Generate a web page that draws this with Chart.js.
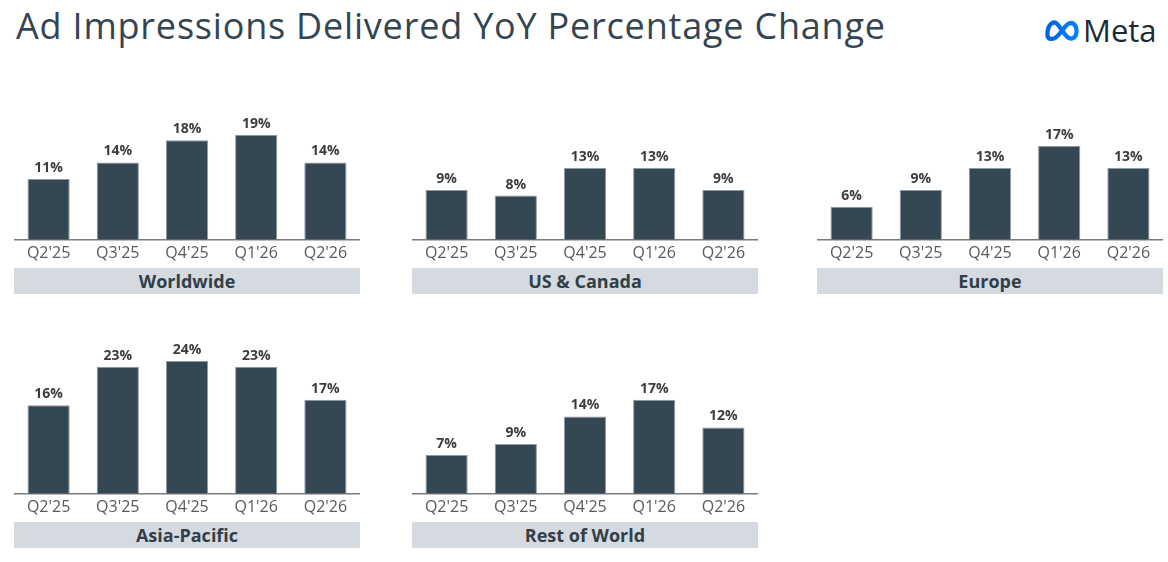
<!DOCTYPE html>
<html>
<head>
<meta charset="utf-8">
<script src="https://cdn.jsdelivr.net/npm/chart.js@4.4.1/dist/chart.umd.min.js"></script>
<style>
  body { margin: 0; width: 1168px; height: 562px; background: #fff; position: relative; overflow: hidden; font-family: "Open Sans", sans-serif; }
  h1 { position: absolute; left: 16px; top: 1px; margin: 0; font-weight: 400; font-size: 36px; color: #344552; letter-spacing: 0.8px; white-space: nowrap; }
  .logo { position: absolute; left: 1043px; top: 9px; display: flex; align-items: center; }
  .logo span { font-size: 31px; color: #1c2b33; margin-left: 2px; font-weight: 500; }
  .panel { position: absolute; width: 346px; }
  .band { position: absolute; width: 346px; height: 26px; background: #d4dae0; color: #333f48; font-weight: 700; font-size: 18px; text-align: center; line-height: 26px; }
</style>
</head>
<body>
<h1>Ad Impressions Delivered YoY Percentage Change</h1>
<div class="logo">
  <svg width="38" height="26" viewBox="0 0 34 22">
    <defs>
      <linearGradient id="mg" x1="0" y1="0" x2="1" y2="0">
        <stop offset="0" stop-color="#0064e0"/>
        <stop offset="1" stop-color="#0082fb"/>
      </linearGradient>
    </defs>
    <path d="M4 15 C4 6 9 3 12 5 C15 7 19 16 23 18 C27 20 30 17 30 12 C30 6 26 3 22 6 C18 9 15 16 11 18 C7 20 4 19 4 15 Z" fill="none" stroke="url(#mg)" stroke-width="3.8" stroke-linejoin="round"/>
  </svg>
  <span>Meta</span>
</div>

<div class="panel" style="left:14px; top:85px;"><canvas id="c1" width="346" height="182"></canvas></div>
<div class="panel" style="left:412px; top:85px;"><canvas id="c2" width="346" height="182"></canvas></div>
<div class="panel" style="left:817px; top:85px;"><canvas id="c3" width="346" height="182"></canvas></div>
<div class="panel" style="left:14px; top:339px;"><canvas id="c4" width="346" height="182"></canvas></div>
<div class="panel" style="left:412px; top:339px;"><canvas id="c5" width="346" height="182"></canvas></div>

<div class="band" style="left:14px; top:268px;">Worldwide</div>
<div class="band" style="left:412px; top:268px;">US &amp; Canada</div>
<div class="band" style="left:817px; top:268px;">Europe</div>
<div class="band" style="left:14px; top:522px;">Asia-Pacific</div>
<div class="band" style="left:412px; top:522px;">Rest of World</div>

<script>
// quarters shown under every panel
const quarters = ["Q2'25", "Q3'25", "Q4'25", "Q1'26", "Q2'26"];

// YoY % change per region
const worldwide = [11, 14, 18, 19, 14];
const usCanada = [9, 8, 13, 13, 9];
const europe = [6, 9, 13, 17, 13];
const asiaPacific = [16, 23, 24, 23, 17];
const restOfWorld = [7, 9, 14, 17, 12];

// draws "xx%" above each bar
const valueLabels = {
  id: "valueLabels",
  afterDatasetsDraw(chart) {
    const ctx = chart.ctx;
    ctx.save();
    ctx.font = "700 14px 'Open Sans', sans-serif";
    ctx.fillStyle = "#3a3d40";
    ctx.textAlign = "center";
    ctx.textBaseline = "bottom";
    chart.getDatasetMeta(0).data.forEach((bar, i) => {
      ctx.fillText(chart.data.datasets[0].data[i] + "%", bar.x, bar.y - 4);
    });
    ctx.restore();
  },
};

function makeChart(id, values) {
  const ctx = document.getElementById(id).getContext("2d");
  return new Chart(ctx, {
    type: "bar",
    data: {
      labels: quarters,
      datasets: [
        {
          data: values,
          backgroundColor: "#344753",
          borderColor: "#8d99a2",
          borderWidth: 1,
          barPercentage: 0.61,
          categoryPercentage: 1,
        },
      ],
    },
    options: {
      responsive: false,
      animation: false,
      devicePixelRatio: 1,
      layout: { padding: 0 },
      plugins: { legend: { display: false }, tooltip: { enabled: false } },
      scales: {
        x: {
          grid: { display: false, drawTicks: false },
          border: { display: true, color: "#7a7a7a", width: 1.5 },
          ticks: {
            color: "#5a5a5a",
            padding: 4,
            font: { family: "'Open Sans', sans-serif", size: 16 },
          },
        },
        y: { display: false, min: 0, max: 28 },
      },
    },
    plugins: [valueLabels],
  });
}

makeChart("c1", worldwide);
makeChart("c2", usCanada);
makeChart("c3", europe);
makeChart("c4", asiaPacific);
makeChart("c5", restOfWorld);
</script>
</body>
</html>
